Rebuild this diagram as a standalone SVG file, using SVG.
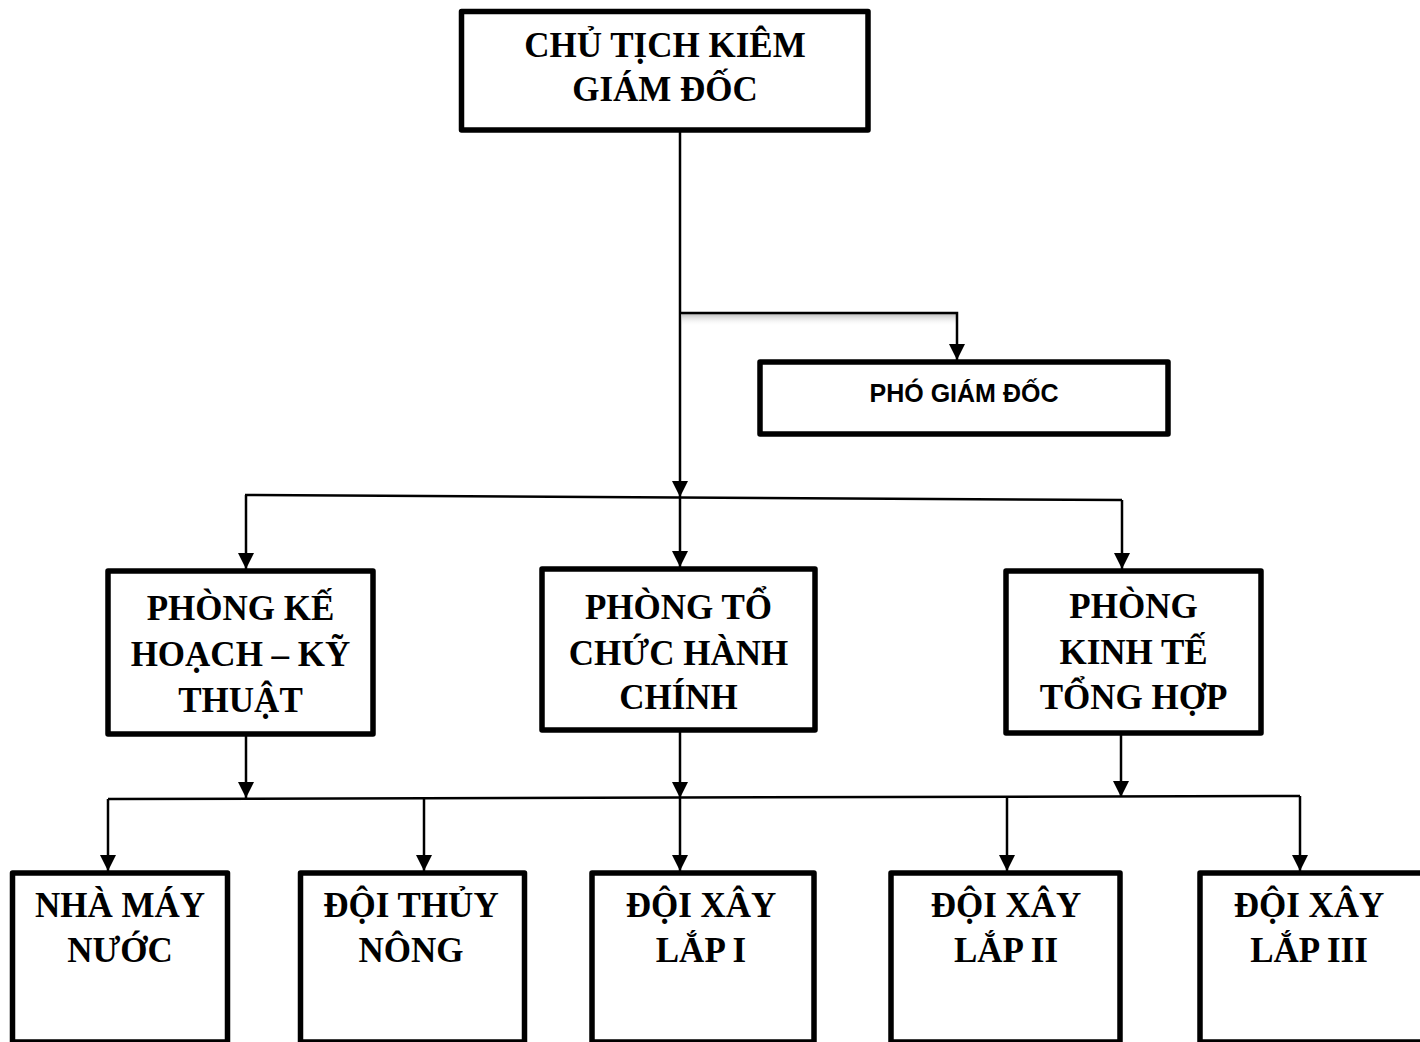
<svg xmlns="http://www.w3.org/2000/svg" width="1420" height="1042" viewBox="0 0 1420 1042">
  <defs>
    <marker id="arr" viewBox="0 0 10 10" refX="10" refY="5" markerWidth="17" markerHeight="16" markerUnits="userSpaceOnUse" orient="auto">
      <path d="M0,0 L10,5 L0,10 z" fill="#000"/>
    </marker>
    <linearGradient id="shadow" x1="0" y1="0" x2="0" y2="1">
      <stop offset="0" stop-color="#b8b8b8" stop-opacity="0.9"/>
      <stop offset="1" stop-color="#ffffff" stop-opacity="0"/>
    </linearGradient>
    <style>
      .box { fill: #fff; stroke: #000; stroke-width: 5.5; stroke-linejoin: round; }
      .conn { fill: none; stroke: #000; stroke-width: 2.5; }
      .t { font-family: "Liberation Serif", "Times New Roman", serif; font-weight: bold; font-size: 35px; text-anchor: middle; fill: #000; }
      .s { font-family: "Liberation Sans", Arial, sans-serif; font-weight: bold; font-size: 25px; text-anchor: middle; fill: #000; }
    </style>
  </defs>
  <rect width="1420" height="1042" fill="#fff"/>

  <g id="connectors">
    <rect x="682" y="314" width="274" height="12" fill="url(#shadow)"/>
    <line class="conn" x1="680" y1="131" x2="680" y2="497" marker-end="url(#arr)"/>
    <polyline class="conn" points="680,313 957,313 957,360" marker-end="url(#arr)"/>
    <line class="conn" x1="245" y1="495" x2="1122" y2="500"/>
    <line class="conn" x1="246" y1="495" x2="246" y2="569" marker-end="url(#arr)"/>
    <line class="conn" x1="680" y1="497" x2="680" y2="567" marker-end="url(#arr)"/>
    <line class="conn" x1="1122" y1="500" x2="1122" y2="569" marker-end="url(#arr)"/>
    <line class="conn" x1="246" y1="734" x2="246" y2="798" marker-end="url(#arr)"/>
    <line class="conn" x1="680" y1="730" x2="680" y2="798" marker-end="url(#arr)"/>
    <line class="conn" x1="1121" y1="733" x2="1121" y2="797" marker-end="url(#arr)"/>
    <line class="conn" x1="108" y1="799" x2="1300" y2="796"/>
    <line class="conn" x1="108" y1="799" x2="108" y2="871" marker-end="url(#arr)"/>
    <line class="conn" x1="424" y1="798" x2="424" y2="871" marker-end="url(#arr)"/>
    <line class="conn" x1="680" y1="798" x2="680" y2="871" marker-end="url(#arr)"/>
    <line class="conn" x1="1007" y1="797" x2="1007" y2="871" marker-end="url(#arr)"/>
    <line class="conn" x1="1300" y1="796" x2="1300" y2="871" marker-end="url(#arr)"/>
  </g>

  <g id="node-chu-tich">
    <rect class="box" x="461.5" y="11.5" width="406.5" height="118.5"/>
    <text class="t" x="665" y="57">CHỦ TỊCH KIÊM</text>
    <text class="t" x="665" y="101">GIÁM ĐỐC</text>
  </g>

  <g id="node-pho-giam-doc">
    <rect class="box" x="760" y="362" width="408" height="72"/>
    <text class="s" x="964" y="402">PHÓ GIÁM ĐỐC</text>
  </g>

  <g id="node-ke-hoach">
    <rect class="box" x="108" y="571" width="265" height="163"/>
    <text class="t" x="240.5" y="620">PHÒNG KẾ</text>
    <text class="t" x="240.5" y="666">HOẠCH – KỸ</text>
    <text class="t" x="240.5" y="712">THUẬT</text>
  </g>

  <g id="node-to-chuc">
    <rect class="box" x="542" y="569" width="273" height="161"/>
    <text class="t" x="678.5" y="619">PHÒNG TỔ</text>
    <text class="t" x="678.5" y="665">CHỨC HÀNH</text>
    <text class="t" x="678.5" y="709">CHÍNH</text>
  </g>

  <g id="node-kinh-te">
    <rect class="box" x="1006" y="571" width="255" height="162"/>
    <text class="t" x="1133.5" y="618">PHÒNG</text>
    <text class="t" x="1133.5" y="664">KINH TẾ</text>
    <text class="t" x="1133.5" y="709">TỔNG HỢP</text>
  </g>

  <g id="node-nha-may-nuoc">
    <rect class="box" x="12.5" y="873" width="215" height="169"/>
    <text class="t" x="120" y="917">NHÀ MÁY</text>
    <text class="t" x="120" y="962">NƯỚC</text>
  </g>

  <g id="node-doi-thuy-nong">
    <rect class="box" x="300.5" y="873" width="224" height="169"/>
    <text class="t" x="411" y="917">ĐỘI THỦY</text>
    <text class="t" x="411" y="962">NÔNG</text>
  </g>

  <g id="node-doi-xay-lap-1">
    <rect class="box" x="592" y="873" width="222" height="169"/>
    <text class="t" x="701" y="917">ĐỘI XÂY</text>
    <text class="t" x="701" y="962">LẮP I</text>
  </g>

  <g id="node-doi-xay-lap-2">
    <rect class="box" x="891" y="873" width="229" height="169"/>
    <text class="t" x="1006" y="917">ĐỘI XÂY</text>
    <text class="t" x="1006" y="962">LẮP II</text>
  </g>

  <g id="node-doi-xay-lap-3">
    <rect class="box" x="1200" y="873" width="260" height="169"/>
    <text class="t" x="1309" y="917">ĐỘI XÂY</text>
    <text class="t" x="1309" y="962">LẮP III</text>
  </g>
</svg>
